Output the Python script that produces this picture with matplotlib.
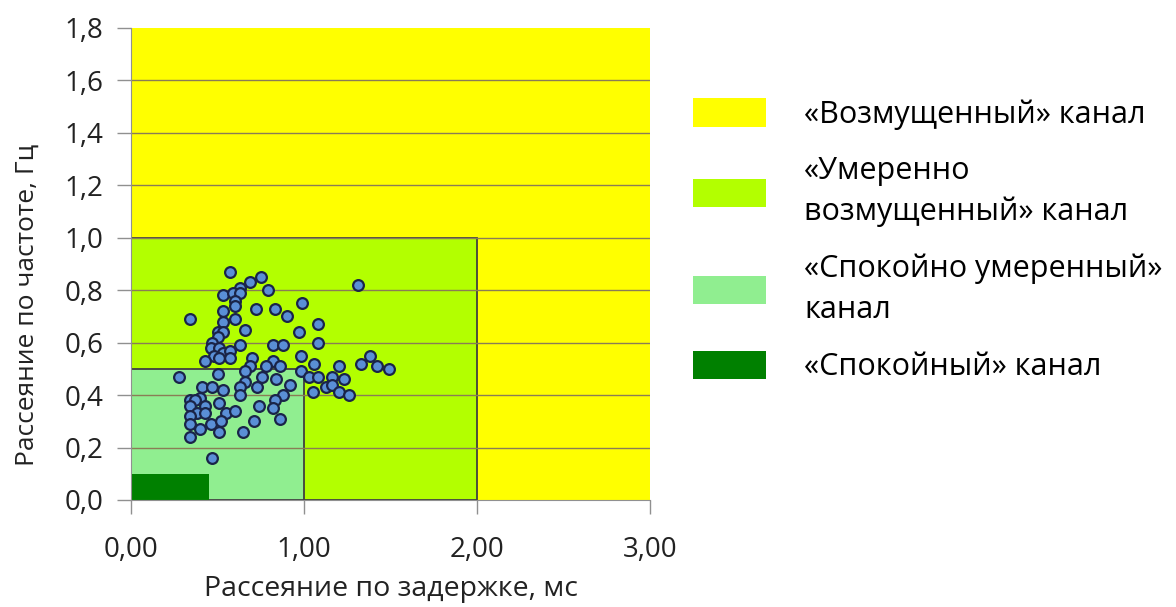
import numpy as np
import matplotlib
matplotlib.use("Agg")
import matplotlib.pyplot as plt
from matplotlib.patches import Rectangle, Patch
from matplotlib.ticker import FuncFormatter

plt.rcParams['font.family'] = ['Open Sans', 'DejaVu Sans']

# channel zones: (label, colour, x extent, y extent)
zone_labels = ['«Возмущенный» канал', '«Умеренно\nвозмущенный» канал',
               '«Спокойно умеренный»\nканал', '«Спокойный» канал']
zone_colors = ['#ffff00', '#b3ff00', '#90ee90', '#008000']
zone_x = [3.0, 2.0, 1.0, 0.45]
zone_y = [1.8, 1.0, 0.5, 0.1]

# measured points: delay spread (ms), frequency spread (Hz)
delay = [0.57, 0.34, 0.69, 0.75, 0.79, 0.53, 0.63, 0.59, 0.63, 0.60, 0.60, 0.72,
         0.83, 0.99, 0.53, 0.60, 0.90, 1.08, 0.53, 0.66, 0.97, 0.50, 0.53, 0.50,
         1.08, 0.63, 0.47, 0.46, 0.51, 0.82, 0.88, 0.53, 0.57, 0.48, 0.51, 0.57,
         0.98, 0.70, 0.43, 0.82, 0.86, 1.06, 0.69, 0.78, 0.98, 0.28, 0.50, 0.66,
         0.76, 0.84, 1.03, 1.08, 1.13, 0.66, 0.92, 0.41, 0.47, 0.53, 0.63, 0.73,
         1.05, 0.63, 0.40, 0.88, 0.34, 0.37, 0.34, 0.43, 0.51, 0.74, 0.83, 0.82,
         0.38, 0.43, 0.55, 0.60, 0.34, 0.71, 0.86, 0.46, 0.52, 0.34, 0.40, 0.51,
         0.65, 0.34, 0.47, 1.31, 1.33, 1.38, 1.42, 1.49, 1.20, 1.16, 1.23, 1.16,
         1.20, 1.26]
freq = [0.87, 0.69, 0.83, 0.85, 0.80, 0.78, 0.81, 0.79, 0.79, 0.76, 0.74, 0.73,
        0.73, 0.75, 0.72, 0.69, 0.70, 0.67, 0.68, 0.65, 0.64, 0.64, 0.64, 0.62,
        0.60, 0.59, 0.60, 0.58, 0.58, 0.59, 0.59, 0.56, 0.57, 0.55, 0.54, 0.54,
        0.55, 0.54, 0.53, 0.53, 0.51, 0.52, 0.51, 0.51, 0.49, 0.47, 0.48, 0.49,
        0.47, 0.46, 0.47, 0.47, 0.43, 0.45, 0.44, 0.43, 0.43, 0.42, 0.43, 0.43,
        0.41, 0.40, 0.39, 0.40, 0.38, 0.38, 0.36, 0.36, 0.37, 0.36, 0.38, 0.35,
        0.33, 0.33, 0.33, 0.34, 0.32, 0.30, 0.31, 0.29, 0.30, 0.29, 0.27, 0.26,
        0.26, 0.24, 0.16, 0.82, 0.52, 0.55, 0.51, 0.50, 0.51, 0.47, 0.46, 0.44,
        0.41, 0.40]

x_ticks = [0, 1, 2, 3]
y_ticks = [0, 0.2, 0.4, 0.6, 0.8, 1.0, 1.2, 1.4, 1.6, 1.8]

fig = plt.figure(figsize=(11.76, 6.07), dpi=100)
ax = fig.add_axes([0.1114, 0.1763, 0.4413, 0.7776])

for i in range(len(zone_labels)):
    edge = 'none' if i in (0, 3) else '#404040'
    ax.add_patch(Rectangle((0, 0), zone_x[i], zone_y[i], facecolor=zone_colors[i],
                           edgecolor=edge, linewidth=1.3, zorder=1 + i * 0.1))

# horizontal grid drawn over the zones
for yv in y_ticks[1:-1]:
    ax.axhline(yv, color='#8a7d55', linewidth=1.0, zorder=2)

ax.scatter(delay, freq, s=60, facecolor='#5a8fd6', edgecolor='#1a2448',
           linewidth=1.6, zorder=3)

ax.set_xlim(0, 3)
ax.set_ylim(0, 1.8)
ax.set_xticks(x_ticks)
ax.set_yticks(y_ticks)
ax.xaxis.set_major_formatter(FuncFormatter(lambda v, p: f'{v:.2f}'.replace('.', ',')))
ax.yaxis.set_major_formatter(FuncFormatter(lambda v, p: f'{v:.1f}'.replace('.', ',')))
for s in ['top', 'right']:
    ax.spines[s].set_visible(False)
for s in ['left', 'bottom']:
    ax.spines[s].set_color('#909090')
ax.tick_params(axis='both', colors='#909090', labelcolor='#222222', labelsize=20,
               length=10, width=1)
ax.tick_params(axis='x', pad=16)
ax.tick_params(axis='y', pad=10)

ax.set_xlabel('Рассеяние по задержке, мс', fontsize=20.5, color='#222222', labelpad=8)
ax.set_ylabel('Рассеяние по частоте, Гц', fontsize=19, color='#222222')
ax.yaxis.set_label_coords(-0.175, 0.413)

handles = [Patch(facecolor=c, edgecolor='none') for c in zone_colors]
leg = fig.legend(handles, zone_labels, loc='upper left', bbox_to_anchor=(0.576, 0.863),
                 frameon=False, fontsize=22, handlelength=2.4, handleheight=1.05,
                 handletextpad=1.25, labelspacing=0.86, borderpad=0)
for t in leg.get_texts():
    t.set_linespacing(1.45)

fig.savefig('out.png', dpi=100)
